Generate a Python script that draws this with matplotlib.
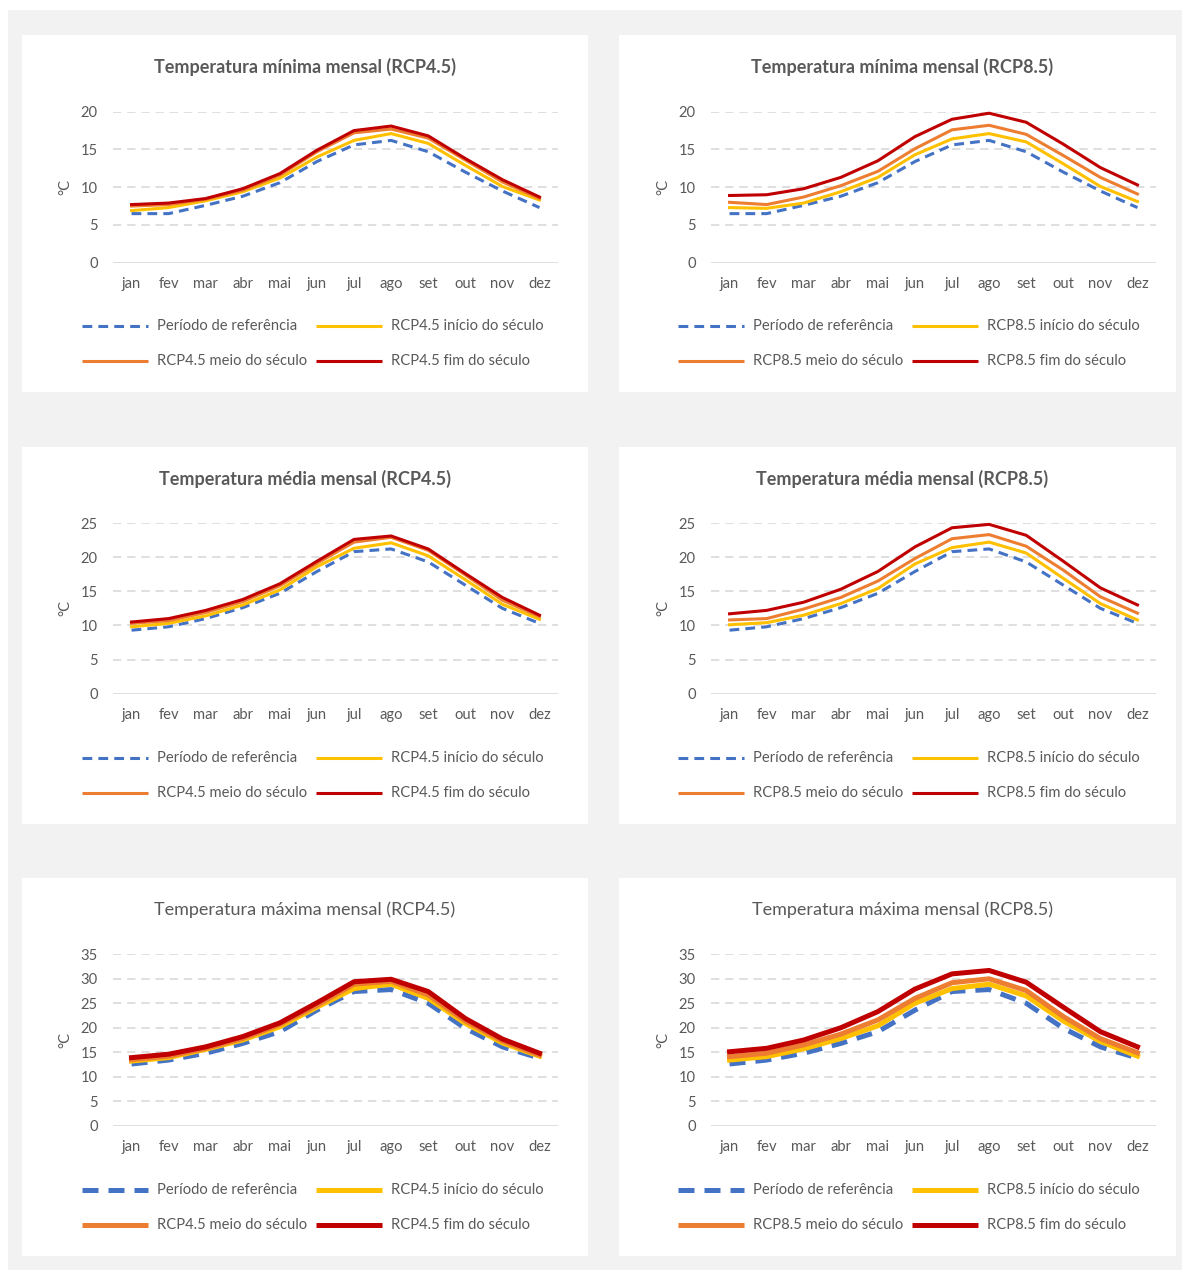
import matplotlib.pyplot as plt
from matplotlib.lines import Line2D
from matplotlib.patches import Rectangle

W, H = 1190, 1276

months = ["jan", "fev", "mar", "abr", "mai", "jun", "jul", "ago", "set", "out", "nov", "dez"]

# temperatura mínima
tmin_ref = [6.5, 6.5, 7.6, 8.8, 10.6, 13.4, 15.6, 16.2, 14.7, 12.0, 9.5, 7.3]
tmin_45_ini = [6.9, 7.3, 8.2, 9.4, 11.2, 14.0, 16.2, 17.1, 15.8, 12.9, 10.1, 8.3]
tmin_45_mei = [7.5, 7.7, 8.4, 9.6, 11.6, 14.7, 17.2, 17.7, 16.5, 13.6, 10.7, 8.5]
tmin_45_fim = [7.7, 7.9, 8.5, 9.8, 11.8, 14.9, 17.5, 18.1, 16.8, 13.8, 11.0, 8.7]
tmin_85_ini = [7.3, 7.2, 7.9, 9.4, 11.3, 14.3, 16.4, 17.1, 16.0, 13.1, 10.1, 8.1]
tmin_85_mei = [8.0, 7.7, 8.7, 10.2, 12.1, 15.1, 17.6, 18.2, 17.0, 14.2, 11.3, 9.1]
tmin_85_fim = [8.9, 9.0, 9.8, 11.3, 13.5, 16.7, 19.0, 19.8, 18.6, 15.7, 12.6, 10.3]

# temperatura média
tmed_ref = [9.3, 9.8, 11.0, 12.6, 14.7, 17.9, 20.8, 21.2, 19.3, 15.9, 12.5, 10.3]
tmed_45_ini = [9.8, 10.3, 11.4, 13.0, 15.2, 18.6, 21.3, 22.1, 20.2, 16.7, 13.1, 10.9]
tmed_45_mei = [10.3, 10.7, 11.9, 13.5, 15.8, 19.1, 22.2, 22.9, 21.0, 17.4, 13.7, 11.3]
tmed_45_fim = [10.5, 11.0, 12.2, 13.8, 16.1, 19.4, 22.6, 23.1, 21.2, 17.6, 14.1, 11.5]
tmed_85_ini = [10.1, 10.4, 11.5, 13.2, 15.4, 19.0, 21.4, 22.2, 20.6, 16.9, 13.2, 10.8]
tmed_85_mei = [10.8, 11.0, 12.4, 14.1, 16.5, 19.8, 22.7, 23.3, 21.6, 18.1, 14.2, 11.8]
tmed_85_fim = [11.7, 12.2, 13.4, 15.3, 17.9, 21.5, 24.3, 24.8, 23.2, 19.4, 15.5, 13.0]

# temperatura máxima
tmax_ref = [12.6, 13.4, 14.8, 16.8, 19.2, 23.6, 27.4, 27.8, 25.0, 19.9, 16.1, 13.8]
tmax_45_ini = [13.2, 13.9, 15.6, 17.5, 20.2, 24.2, 28.0, 28.9, 26.0, 20.9, 16.9, 14.2]
tmax_45_mei = [13.5, 14.2, 15.8, 17.8, 20.7, 24.6, 28.9, 29.5, 26.7, 21.4, 17.3, 14.4]
tmax_45_fim = [13.9, 14.6, 16.1, 18.2, 21.0, 25.1, 29.4, 29.9, 27.4, 21.9, 17.7, 14.8]
tmax_85_ini = [13.4, 14.1, 15.7, 17.8, 20.4, 25.0, 28.0, 28.9, 26.5, 21.4, 17.2, 14.2]
tmax_85_mei = [14.1, 14.8, 16.5, 18.7, 21.6, 26.0, 29.2, 30.0, 27.6, 22.3, 17.8, 14.9]
tmax_85_fim = [15.1, 15.8, 17.5, 20.0, 23.3, 27.9, 31.0, 31.7, 29.3, 24.2, 19.2, 16.1]

BLUE, YELLOW, ORANGE, RED = "#4472C4", "#FFC000", "#ED7D31", "#C00000"
TXT = "#595959"
GRID = "#D9D9D9"

plt.rcParams["font.family"] = ["Lato", "DejaVu Sans"]

fig = plt.figure(figsize=(W / 100, H / 100), dpi=100)
fig.patch.set_facecolor("white")


def fx(px):
    return px / W


def fy(py):
    return 1 - py / H


fig.add_artist(Rectangle((fx(8), fy(1270)), fx(1182) - fx(8), fy(10) - fy(1270),
                         transform=fig.transFigure, facecolor="#F2F2F2", edgecolor="none", zorder=0))

panels = [
    # (left, top, right, bottom, plot y top, plot y zero, ymax, legend y, title, bold, scenario, series, lw)
    (22, 35, 588, 392, 111.7, 262.7, 20, 326, "Temperatura mínima mensal (RCP4.5)", True, "RCP4.5",
     [tmin_ref, tmin_45_ini, tmin_45_mei, tmin_45_fim], 2.2),
    (619, 35, 1176, 392, 111.7, 262.7, 20, 326, "Temperatura mínima mensal (RCP8.5)", True, "RCP8.5",
     [tmin_ref, tmin_85_ini, tmin_85_mei, tmin_85_fim], 2.2),
    (22, 447, 588, 824, 523.0, 693.7, 25, 758, "Temperatura média mensal (RCP4.5)", True, "RCP4.5",
     [tmed_ref, tmed_45_ini, tmed_45_mei, tmed_45_fim], 2.2),
    (619, 447, 1176, 824, 523.0, 693.7, 25, 758, "Temperatura média mensal (RCP8.5)", True, "RCP8.5",
     [tmed_ref, tmed_85_ini, tmed_85_mei, tmed_85_fim], 2.2),
    (22, 878, 588, 1256, 954.3, 1125.7, 35, 1190, "Temperatura máxima mensal (RCP4.5)", False, "RCP4.5",
     [tmax_ref, tmax_45_ini, tmax_45_mei, tmax_45_fim], 3.6),
    (619, 878, 1176, 1256, 954.3, 1125.7, 35, 1190, "Temperatura máxima mensal (RCP8.5)", False, "RCP8.5",
     [tmax_ref, tmax_85_ini, tmax_85_mei, tmax_85_fim], 3.6),
]

for i, (left, top, right, bottom, ytop, yzero, ymax, ly0, title, bold, scen, series, lw) in enumerate(panels):
    fig.add_artist(Rectangle((fx(left), fy(bottom)), fx(right) - fx(left), fy(top) - fy(bottom),
                             transform=fig.transFigure, facecolor="white", edgecolor="none", zorder=1))

    gx0 = 113 if i % 2 == 0 else 711
    gx1 = gx0 + 445
    ax = fig.add_axes([fx(gx0), fy(yzero), fx(gx1) - fx(gx0), fy(ytop) - fy(yzero)])
    ax.set_zorder(2)
    ax.patch.set_visible(False)
    ax.set_xlim(-0.5, 11.5)
    ax.set_ylim(0, ymax)
    ax.set_yticks(range(0, ymax + 1, 5))
    ax.set_xticks(range(12))
    ax.set_xticklabels(months)
    for s in ax.spines.values():
        s.set_visible(False)
    ax.tick_params(length=0, colors=TXT, labelsize=10.6)
    ax.tick_params(axis="x", pad=10)
    ax.tick_params(axis="y", pad=11)
    for v in range(5, ymax + 1, 5):
        ax.axhline(v, color=GRID, lw=1.2, dashes=(5, 3.5), zorder=1)
    ax.axhline(0, color=GRID, lw=1.2, zorder=1)

    x = list(range(12))
    ax.plot(x, series[0], color=BLUE, lw=lw, dashes=(3.2, 2.0), zorder=3, clip_on=False,
            solid_capstyle="butt", dash_capstyle="butt")
    ax.plot(x, series[1], color=YELLOW, lw=lw, zorder=4, clip_on=False)
    ax.plot(x, series[2], color=ORANGE, lw=lw, zorder=5, clip_on=False)
    ax.plot(x, series[3], color=RED, lw=lw, zorder=6, clip_on=False)

    ax.set_ylabel("°C", color=TXT, fontsize=10.6, labelpad=6)

    cx = (left + right) / 2 + (5 if i % 2 else 0)
    fig.text(fx(cx), fy(top + 32), title, ha="center", va="center", color=TXT,
             fontsize=13, fontweight="bold" if bold else "normal", zorder=3)

    # legend
    lx0 = 82 if i % 2 == 0 else 678
    entries = [
        (BLUE, True, "Período de referência"),
        (YELLOW, False, f"{scen} início do século"),
        (ORANGE, False, f"{scen} meio do século"),
        (RED, False, f"{scen} fim do século"),
    ]
    for k, (col, dashed, lab) in enumerate(entries):
        col_off = 234 if k % 2 else 0
        ly = ly0 + (35 if k >= 2 else 0)
        xa = lx0 + col_off
        line = Line2D([fx(xa), fx(xa + 66)], [fy(ly), fy(ly)], transform=fig.transFigure,
                      color=col, lw=lw, zorder=3, solid_capstyle="butt")
        if dashed:
            line.set_dashes((3.2, 2.0))
            line.set_dash_capstyle("butt")
        fig.add_artist(line)
        fig.text(fx(xa + 75), fy(ly), lab, ha="left", va="center", color=TXT, fontsize=10.6, zorder=3)

fig.savefig("out.png", dpi=100, facecolor="white")
